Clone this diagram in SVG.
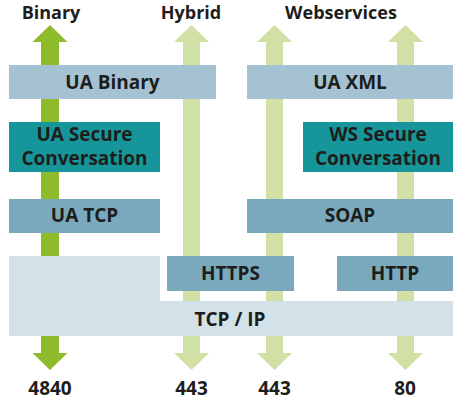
<svg xmlns="http://www.w3.org/2000/svg" width="463" height="400" viewBox="0 0 463 400">
<style>
text{font-family:"Open Sans","Liberation Sans",sans-serif;font-weight:bold;fill:#1d1d1b;text-anchor:middle;font-size:19px}
.hdr{font-size:18px}
.l1{fill:#a5c2d2}
.l2{fill:#7aa9be}
.sec{fill:#16959b}
.ip{fill:#d3e1e9}
.ag{fill:#8dbb2b}
.al{fill:#d1e0a4}
</style>
<rect width="463" height="400" fill="#ffffff"/>
<g id="connectors">
<path class="ag" d="M50,25 L67.5,42 L59,42 L59,353 L67.5,353 L50,370 L32.5,353 L41,353 L41,42 L32.5,42 Z"/>
<path class="al" d="M191.5,25 L209,42 L200,42 L200,353 L209,353 L191.5,370 L174,353 L183,353 L183,42 L174,42 Z"/>
<path class="al" d="M274.5,25 L292,42 L283,42 L283,353 L292,353 L274.5,370 L257,353 L266,353 L266,42 L257,42 Z"/>
<path class="al" d="M405.5,25 L423,42 L414,42 L414,353 L423,353 L405.5,370 L388,353 L397,353 L397,42 L388,42 Z"/>
</g>
<g id="tcpip"><path class="ip" d="M9,256 L160,256 L160,301 L453,301 L453,336 L9,336 Z"/><text x="230" y="326">TCP / IP</text></g>
<g id="uabinary"><rect class="l1" x="9" y="65" width="207" height="34"/><text x="112.5" y="88.5">UA Binary</text></g>
<g id="uaxml"><rect class="l1" x="247" y="65" width="206" height="34"/><text x="350" y="88.5">UA XML</text></g>
<g id="uasc"><rect class="sec" x="9" y="122" width="151" height="50"/><text x="84.5" y="141">UA Secure</text><text x="84.5" y="165">Conversation</text></g>
<g id="wssc"><rect class="sec" x="303" y="122" width="150" height="50"/><text x="378" y="141">WS Secure</text><text x="378" y="165">Conversation</text></g>
<g id="uatcp"><rect class="l2" x="9" y="199" width="151" height="34"/><text x="84.5" y="222">UA TCP</text></g>
<g id="soap"><rect class="l2" x="247" y="199" width="206" height="34"/><text x="350" y="222">SOAP</text></g>
<g id="https"><rect class="l2" x="167" y="256" width="127" height="35"/><text x="230.5" y="280">HTTPS</text></g>
<g id="http"><rect class="l2" x="337" y="256" width="116" height="35"/><text x="395" y="280">HTTP</text></g>
<g id="labels">
<text class="hdr" x="51" y="18.5">Binary</text>
<text class="hdr" x="191" y="18.5">Hybrid</text>
<text class="hdr" x="341" y="18.5">Webservices</text>
<text x="50" y="395">4840</text>
<text x="191.5" y="395">443</text>
<text x="274.5" y="395">443</text>
<text x="405" y="395">80</text>
</g>
</svg>
